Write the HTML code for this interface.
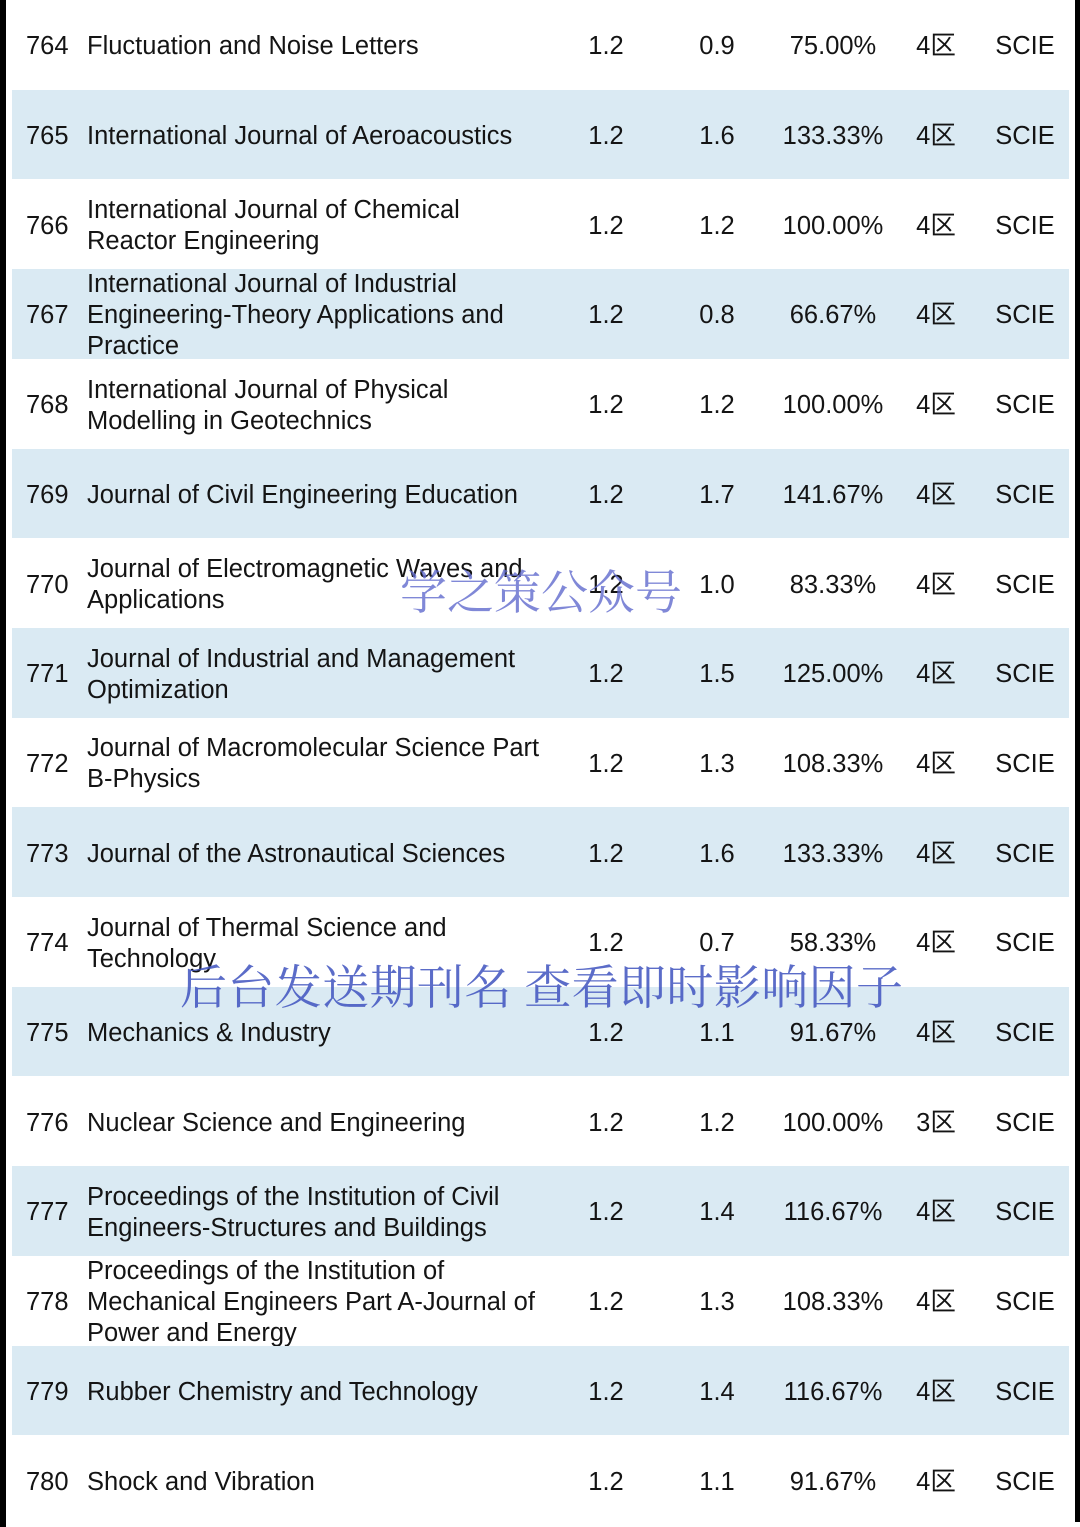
<!DOCTYPE html>
<html><head><meta charset="utf-8">
<style>
html,body{margin:0;padding:0;}
body{width:1080px;height:1527px;position:relative;background:#fff;overflow:hidden;font-family:"Liberation Sans","Noto Sans CJK SC",sans-serif;color:#141414;}
.row{position:absolute;left:12px;width:1057px;}
.band{background:#daeaf3;}
.cell{position:absolute;font-size:25.5px;line-height:31px;display:flex;align-items:center;white-space:nowrap;}
.wm{position:absolute;font-family:"Noto Serif CJK SC","WenQuanYi Zen Hei",serif;white-space:nowrap;}
</style></head>
<body>
<div style="position:absolute;left:0;top:0;width:6px;height:1527px;background:#000"></div>
<div style="position:absolute;left:1075px;top:0;width:5px;height:1522px;background:#000"></div>
<div id="tbl"></div>
<div class="wm" style="left:400px;top:556px;font-size:47px;color:rgba(96,106,205,0.8);">学之策公众号</div>
<div class="wm" style="left:180px;top:951px;font-size:47px;letter-spacing:0.4px;color:rgba(62,82,190,0.85);">后台发送期刊名 查看即时影响因子</div>
<script>
const ranks=[764,765,766,767,768,769,770,771,772,773,774,775,776,777,778,779,780];
const names=[["Fluctuation and Noise Letters"],["International Journal of Aeroacoustics"],["International Journal of Chemical","Reactor Engineering"],["International Journal of Industrial","Engineering-Theory Applications and","Practice"],["International Journal of Physical","Modelling in Geotechnics"],["Journal of Civil Engineering Education"],["Journal of Electromagnetic Waves and","Applications"],["Journal of Industrial and Management","Optimization"],["Journal of Macromolecular Science Part","B-Physics"],["Journal of the Astronautical Sciences"],["Journal of Thermal Science and","Technology"],["Mechanics & Industry"],["Nuclear Science and Engineering"],["Proceedings of the Institution of Civil","Engineers-Structures and Buildings"],["Proceedings of the Institution of","Mechanical Engineers Part A-Journal of","Power and Energy"],["Rubber Chemistry and Technology"],["Shock and Vibration"]];
const ifPrev=["1.2","1.2","1.2","1.2","1.2","1.2","1.2","1.2","1.2","1.2","1.2","1.2","1.2","1.2","1.2","1.2","1.2"];
const ifNow=["0.9","1.6","1.2","0.8","1.2","1.7","1.0","1.5","1.3","1.6","0.7","1.1","1.2","1.4","1.3","1.4","1.1"];
const ratio=["75.00%","133.33%","100.00%","66.67%","100.00%","141.67%","83.33%","125.00%","108.33%","133.33%","58.33%","91.67%","100.00%","116.67%","108.33%","116.67%","91.67%"];
const zone=["4区","4区","4区","4区","4区","4区","4区","4区","4区","4区","4区","4区","3区","4区","4区","4区","4区"];
const idx=["SCIE","SCIE","SCIE","SCIE","SCIE","SCIE","SCIE","SCIE","SCIE","SCIE","SCIE","SCIE","SCIE","SCIE","SCIE","SCIE","SCIE"];
const RH=89.7;
const tbl=document.getElementById('tbl');
function cell(row,left,width,html,center,name){
  const c=document.createElement('div');
  c.className='cell';
  
  
  c.style.left=left+'px';c.style.width=width+'px';c.style.top='2px';c.style.height=RH+'px';
  if(center)c.style.justifyContent='center';
  c.innerHTML=html;
  row.appendChild(c);
}
ranks.forEach((r,i)=>{
  const row=document.createElement('div');
  row.className='row'+(i%2===1?' band':'');
  
  
  row.style.top=(i*RH)+'px';row.style.height=RH+'px';
  cell(row,14,60,String(r),false,'rank-cell');
  cell(row,75,480,'<div>'+names[i].join('<br>')+'</div>',false,'journal-name-cell');
  cell(row,554,80,ifPrev[i],true,'prev-if-cell');
  cell(row,665,80,ifNow[i],true,'current-if-cell');
  cell(row,761,120,ratio[i],true,'growth-ratio-cell');
  cell(row,884,80,zone[i],true,'zone-cell');
  cell(row,973,80,idx[i],true,'index-cell');
  tbl.appendChild(row);
});
</script>
</body></html>
